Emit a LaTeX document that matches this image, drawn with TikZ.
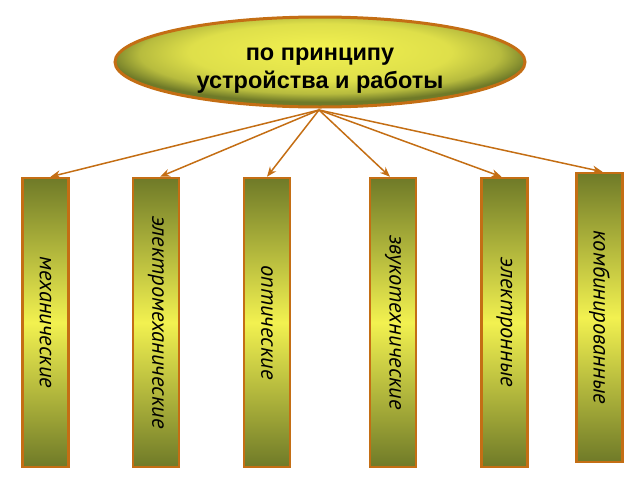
\documentclass[tikz,border=0pt]{standalone}
\usepackage{fontspec}
\setmainfont{Liberation Sans}
\newfontfamily\ptsans{PT Sans}
\usetikzlibrary{arrows.meta}
\definecolor{olivedk}{HTML}{6F7A28}
\definecolor{yelbr}{HTML}{F2F150}
\definecolor{brd}{HTML}{C46E14}
\tikzset{
  catbox/.style={draw=brd, line width=2.5pt, top color=olivedk, bottom color=olivedk, middle color=yelbr, minimum width=46pt, minimum height=289pt, inner sep=0pt},
  cattext/.style={rotate=-90, font=\ptsans\fontsize{22.5}{24}\selectfont\itshape, text=black},
  conn/.style={draw=brd, line width=1.5pt, -{Stealth[length=10pt,width=8pt]}},
}
\pgfdeclareradialshading{ellipse shading}{\pgfpoint{0bp}{8bp}}{color(0bp)=(yelbr); color(16bp)=(yelbr!85!olivedk); color(22bp)=(yelbr!55!olivedk); color(26bp)=(olivedk); color(50bp)=(olivedk)}
\begin{document}
\begin{tikzpicture}[x=1pt,y=-1pt]
\useasboundingbox (0,0) rectangle (640,480);
\path[draw=brd, line width=3pt, shading=ellipse shading] (320,62) ellipse [x radius=205, y radius=45];
\node[font=\fontsize{23.5}{28}\selectfont\bfseries, align=center] (top) at (320,71) {по принципу\\устройства и работы};
\coordinate (src) at (319,110);
\node[catbox] (b1) at (45.5,322.5) {};
\node[catbox] (b2) at (156,322.5) {};
\node[catbox] (b3) at (267,322.5) {};
\node[catbox] (b4) at (393,322.5) {};
\node[catbox] (b5) at (504.5,322.5) {};
\node[catbox] (b6) at (599.5,317.5) {};
\node[cattext] at (b1) {механические};
\node[cattext] at (b2) {электромеханические};
\node[cattext] at (b3) {оптические};
\node[cattext] at (b4) {звукотехнические};
\node[cattext] at (b5) {электронные};
\node[cattext] at (b6) {комбинированные};
\draw[conn] (src) -- ([xshift=5pt]b1.north);
\draw[conn] (src) -- ([xshift=4pt]b2.north);
\draw[conn] (src) -- (b3.north);
\draw[conn] (src) -- ([xshift=-3pt]b4.north);
\draw[conn] (src) -- ([xshift=-3pt]b5.north);
\draw[conn] (src) -- ([xshift=3pt]b6.north);
\end{tikzpicture}
\end{document}
